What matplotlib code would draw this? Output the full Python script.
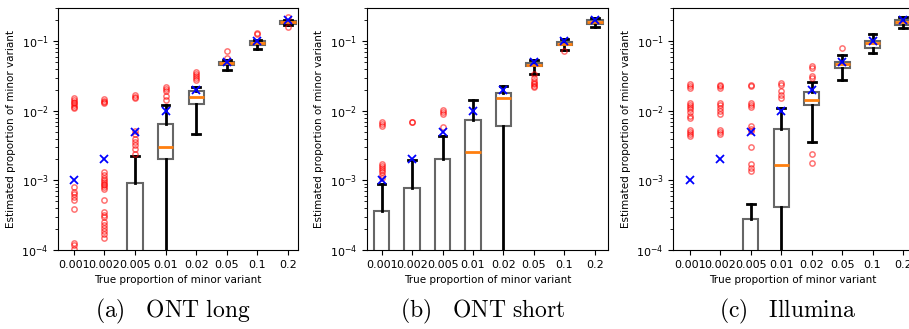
import matplotlib
matplotlib.use("Agg")
import matplotlib.pyplot as plt
import numpy as np

# true proportions (x categories)
true_props = [0.001, 0.002, 0.005, 0.01, 0.02, 0.05, 0.1, 0.2]
tick_labels = ["0.001", "0.002", "0.005", "0.01", "0.02", "0.05", "0.1", "0.2"]

ZERO = 1e-6  # values that sit below the axis (zero estimates)

# ---- (a) ONT long ----
long_q1 = [ZERO, ZERO, ZERO, 2.0e-3, 0.0125, 0.0454, 0.0895, 0.178]
long_med = [ZERO, ZERO, ZERO, 3.0e-3, 0.0160, 0.0480, 0.0955, 0.188]
long_q3 = [ZERO, ZERO, 9.2e-4, 6.4e-3, 0.0193, 0.0507, 0.1020, 0.197]
long_lo = [ZERO, ZERO, ZERO, ZERO, 4.7e-3, 0.0380, 0.0785, 0.169]
long_hi = [ZERO, ZERO, 2.23e-3, 0.0122, 0.0220, 0.0530, 0.1050, 0.203]
long_fliers = [
    [0.0155, 0.0145, 0.0135, 0.013, 0.0122, 0.0115, 0.011,
     8.1e-4, 6.8e-4, 6.4e-4, 5.8e-4, 5.2e-4, 3.85e-4, 1.25e-4, 1.18e-4, 1.05e-4],
    [0.0148, 0.014, 0.0133, 0.0128,
     1.3e-3, 1.2e-3, 1.1e-3, 1.0e-3, 9.5e-4, 9.0e-4, 8.5e-4, 8.0e-4, 7.5e-4,
     5.2e-4, 3.5e-4, 3.2e-4, 3.0e-4, 2.5e-4, 2.3e-4, 2.1e-4, 1.9e-4, 1.7e-4, 1.5e-4],
    [0.0168, 0.016, 0.0155, 5.2e-3, 4.6e-3, 4.0e-3, 3.6e-3, 3.2e-3, 2.8e-3, 2.4e-3],
    [0.022, 0.0205, 0.019, 0.0165, 0.0145],
    [0.036, 0.034, 0.032, 0.030, 0.028],
    [0.072, 0.058],
    [0.13, 0.125],
    [0.226, 0.158],
]

# ---- (b) ONT short ----
short_q1 = [ZERO, ZERO, ZERO, ZERO, 6.1e-3, 0.0440, 0.0873, 0.178]
short_med = [ZERO, ZERO, ZERO, 2.54e-3, 0.0155, 0.0455, 0.0916, 0.189]
short_q3 = [3.6e-4, 7.85e-4, 2.06e-3, 7.36e-3, 0.0183, 0.0490, 0.0972, 0.204]
short_lo = [ZERO, ZERO, ZERO, ZERO, ZERO, 0.0341, 0.0757, 0.158]
short_hi = [8.8e-4, 1.94e-3, 4.4e-3, 0.0144, 0.0228, 0.0534, 0.1080, 0.215]
short_fliers = [
    [6.8e-3, 6.4e-3, 6.0e-3,
     1.75e-3, 1.6e-3, 1.5e-3, 1.4e-3, 1.3e-3, 1.2e-3, 1.1e-3],
    [7.0e-3, 6.8e-3],
    [0.0102, 0.0096, 0.0090, 5.9e-3],
    [],
    [],
    [0.034, 0.030, 0.0268, 0.0255, 0.024, 0.0228, 0.0222],
    [0.0734],
    [],
]

# ---- (c) Illumina ----
illu_q1 = [ZERO, ZERO, ZERO, 4.16e-4, 0.0122, 0.0407, 0.0810, 0.170]
illu_med = [ZERO, ZERO, ZERO, 1.66e-3, 0.0145, 0.0465, 0.0955, 0.188]
illu_q3 = [ZERO, ZERO, 2.83e-4, 5.47e-3, 0.0189, 0.0507, 0.1000, 0.200]
illu_lo = [ZERO, ZERO, ZERO, ZERO, 3.6e-3, 0.0280, 0.0683, 0.155]
illu_hi = [ZERO, ZERO, 4.54e-4, 0.0108, 0.0262, 0.0630, 0.1260, 0.220]
illu_fliers = [
    [0.024, 0.0225, 0.021, 0.013, 0.0122, 0.0115, 0.0105, 9.5e-3, 8.5e-3, 7.8e-3,
     5.3e-3, 5.0e-3, 4.7e-3, 4.4e-3],
    [0.0235, 0.0225, 0.021, 0.0128, 0.012, 0.011, 0.0098, 9.0e-3,
     5.3e-3, 5.0e-3, 4.7e-3],
    [0.0235, 0.0225, 0.013, 0.012, 0.0112, 6.0e-3, 5.5e-3, 5.1e-3,
     3.0e-3, 1.7e-3, 1.5e-3, 1.35e-3],
    [0.025, 0.0235, 0.019, 0.017, 0.0155],
    [0.044, 0.041, 0.032, 0.030, 2.4e-3, 1.8e-3],
    [0.079],
    [],
    [],
]

panels = [
    ("(a)", "ONT\\ long", long_q1, long_med, long_q3, long_lo, long_hi, long_fliers),
    ("(b)", "ONT\\ short", short_q1, short_med, short_q3, short_lo, short_hi, short_fliers),
    ("(c)", "Illumina", illu_q1, illu_med, illu_q3, illu_lo, illu_hi, illu_fliers),
]

W, H = 909, 329
fig = plt.figure(figsize=(W / 100, H / 100), dpi=100)

# axes placement in pixels (left, right) and x limits per panel
ax_px = [(58.3, 298.0), (366.7, 608.0), (673.3, 913.0)]
xlims = [(0.49, 8.33), (0.51, 8.43), (0.45, 8.33)]

for (x0, x1), xl, (tag, name, q1, med, q3, lo, hi, fl) in zip(ax_px, xlims, panels):
    ax = fig.add_axes([x0 / W, 0.24, (x1 - x0) / W, 0.7357])
    stats = []
    for i in range(len(true_props)):
        stats.append(dict(q1=q1[i], med=med[i], q3=q3[i],
                          whislo=lo[i], whishi=hi[i], fliers=fl[i]))
    ax.bxp(stats, positions=range(1, 9), widths=0.5, patch_artist=True,
           boxprops=dict(facecolor="white", edgecolor="0.4", linewidth=1.5),
           whiskerprops=dict(color="black", linewidth=2),
           capprops=dict(color="black", linewidth=2),
           medianprops=dict(color="#ff7f0e", linewidth=2),
           flierprops=dict(marker="o", markersize=3.8, markerfacecolor="none",
                           markeredgecolor=(1, 0, 0, 0.55), markeredgewidth=1.1))
    ax.plot(range(1, 9), true_props, linestyle="none", marker="x",
            color="blue", markersize=6, markeredgewidth=1.3, zorder=5)
    ax.set_yscale("log")
    ax.set_ylim(1e-4, 0.3)
    ax.set_xlim(*xl)
    ax.set_xticks(range(1, 9))
    ax.set_xticklabels(tick_labels)
    ax.tick_params(labelsize=8)
    ax.set_xlabel("True proportion of minor variant", fontsize=7.5)
    ax.set_ylabel("Estimated proportion of minor variant", fontsize=7.5)
    cx = ((x0 + x1) / 2 - 5) / W
    fig.text(cx, 0.052, r"$\mathrm{%s}\quad\mathrm{%s}$" % (tag, name),
             ha="center", va="center", fontsize=17,
             math_fontfamily="cm")

fig.savefig("out.png", dpi=100)
